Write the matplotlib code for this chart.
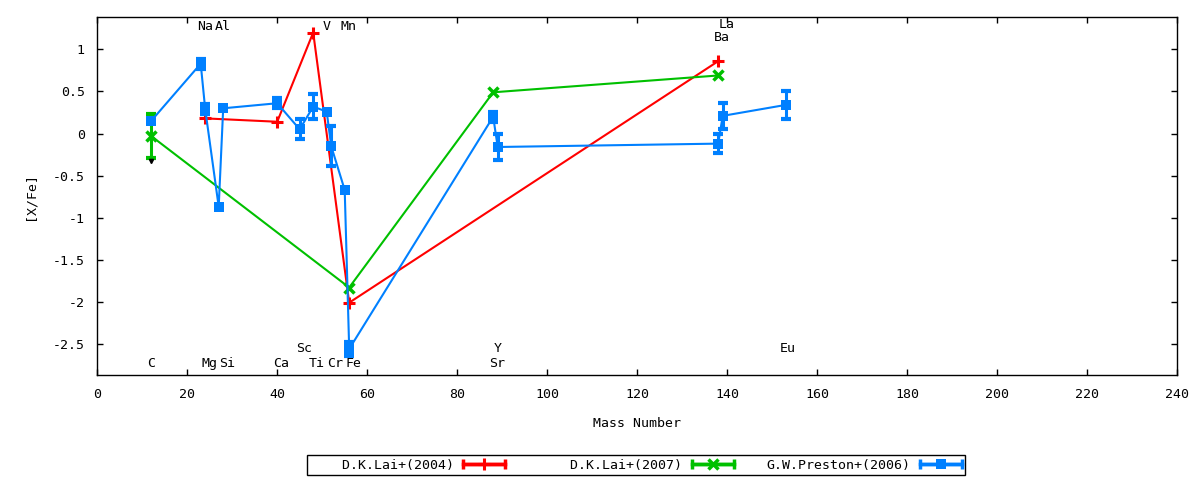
import numpy as np
import matplotlib
matplotlib.use("Agg")
import matplotlib.pyplot as plt
from matplotlib.container import ErrorbarContainer
from matplotlib.legend_handler import HandlerErrorbar

plt.rcParams['font.family'] = ['DejaVu Sans Mono']
plt.rcParams['font.size'] = 9.5

# D.K.Lai+(2004)
lai04_mass = [24, 40, 48, 56, 138]
lai04_val = [0.18, 0.14, 1.20, -2.01, 0.86]
lai04_err = [0.0, 0.0, 0.0, 0.0, 0.0]

# D.K.Lai+(2007)
lai07_mass = [12, 56, 88, 138]
lai07_val = [-0.03, -1.83, 0.49, 0.69]
lai07_err = [0.26, 0.0, 0.0, 0.0]

# G.W.Preston+(2006)
pre_mass = [12, 23, 24, 27, 28, 40, 45, 48, 51, 52, 55, 56, 88, 89, 138, 139, 153]
pre_val = [0.15, 0.83, 0.29, -0.87, 0.30, 0.36, 0.05, 0.32, 0.26, -0.15, -0.67,
           -2.56, 0.20, -0.16, -0.12, 0.21, 0.34]
pre_err = [0.0, 0.06, 0.06, 0.0, 0.0, 0.06, 0.12, 0.15, 0.0, 0.24, 0.0,
           0.08, 0.06, 0.15, 0.11, 0.155, 0.165]

# stray limit mark under carbon
lim_mass = [12]
lim_val = [-0.33]

# element labels: name, mass, y position
elem_names = ['C', 'Na', 'Mg', 'Al', 'Si', 'Ca', 'Sc', 'Ti', 'V', 'Cr', 'Mn', 'Fe',
              'Sr', 'Y', 'Ba', 'La', 'Eu']
elem_mass = [12, 23, 24, 27, 28, 40, 45, 48, 51, 52, 55, 56, 88, 89, 138, 139, 152.5]
elem_y = [-2.73, 1.275, -2.73, 1.275, -2.73, -2.73, -2.56, -2.73, 1.275, -2.73, 1.275,
          -2.73, -2.73, -2.56, 1.145, 1.29, -2.56]

red = '#ff0000'
green = '#00c000'
blue = '#0080ff'


def plot_series(ax, mass, val, err, color, **mk):
    """line with markers, error bars only where an error is given"""
    mass, val, err = np.asarray(mass), np.asarray(val), np.asarray(err)
    ax.plot(mass, val, color=color, lw=1.5, **mk)
    m = err > 0
    if m.any():
        eb = ax.errorbar(mass[m], val[m], yerr=err[m], fmt='none', ecolor=color,
                         elinewidth=2.2, capsize=3.5)
        for cap in eb[1]:
            cap.set_markeredgewidth(3)


fig = plt.figure(figsize=(12, 4.8), dpi=100)
ax = fig.add_axes([0.081, 0.2187, 0.9, 0.7459])

plot_series(ax, lai04_mass, lai04_val, lai04_err, red, marker='+', ms=8, mew=2.2)
plot_series(ax, lai07_mass, lai07_val, lai07_err, green, marker='x', ms=6.5, mew=2.5)
plot_series(ax, pre_mass, pre_val, pre_err, blue, marker='s', ms=7, mew=0)
ax.plot(lim_mass, lim_val, 'kv', ms=3)

for name, m, y in zip(elem_names, elem_mass, elem_y):
    ax.text(m - 0.9, y, name, ha='left', va='center', fontsize=9.5)

ax.set_xlim(0, 240)
ax.set_ylim(-2.87, 1.385)
ax.set_xticks(np.arange(0, 241, 20))
ax.set_yticks([-2.5, -2, -1.5, -1, -0.5, 0, 0.5, 1])
ax.set_yticklabels(['-2.5', '-2', '-1.5', '-1', '-0.5', '0', '0.5', '1'])
ax.tick_params(direction='in', length=4, width=1, top=True, right=True, pad=9)
ax.set_xlabel('Mass Number', labelpad=12)
ax.set_ylabel('[X/Fe]', labelpad=12)
for sp in ax.spines.values():
    sp.set_linewidth(1)

# legend proxies (gnuplot style: text, then sample with end bars)
h1 = ax.errorbar([np.nan], [np.nan], xerr=[1], color=red, lw=2.5, marker='+',
                 ms=8, mew=2.2, elinewidth=2.5, capsize=3.5)
h2 = ax.errorbar([np.nan], [np.nan], xerr=[1], color=green, lw=2.5, marker='x',
                 ms=6.5, mew=2.5, elinewidth=2.5, capsize=3.5)
h3 = ax.errorbar([np.nan], [np.nan], xerr=[1], color=blue, lw=2.5, marker='s',
                 ms=7, mew=0, elinewidth=2.5, capsize=3.5)
for eb in (h1, h2, h3):
    for cap in eb[1]:
        cap.set_markeredgewidth(2.5)
labels = ['    D.K.Lai+(2004)', '    D.K.Lai+(2007)', 'G.W.Preston+(2006)']
leg = fig.legend([h1, h2, h3], labels, loc='center', bbox_to_anchor=(0.53, 0.031),
                 ncol=3, markerfirst=False, handlelength=3.2, handletextpad=0.7,
                 columnspacing=2.5, frameon=True, fancybox=False, edgecolor='black',
                 borderpad=0.25, framealpha=1,
                 handler_map={ErrorbarContainer: HandlerErrorbar(xerr_size=1.6)})
leg.get_frame().set_linewidth(1)

fig.savefig('out.png', dpi=100)
